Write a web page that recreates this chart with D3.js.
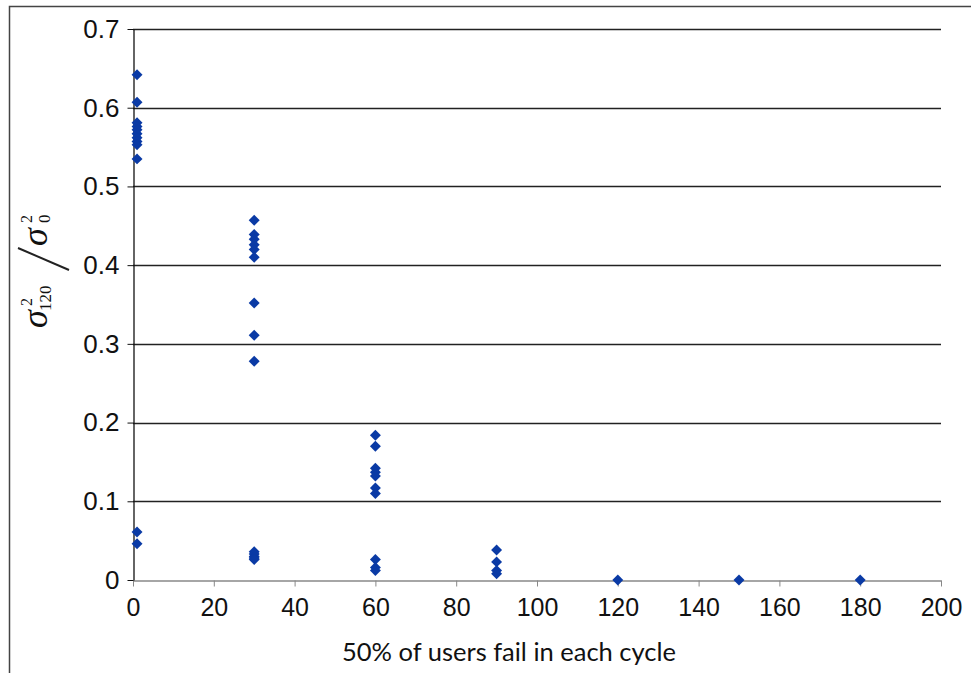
<!DOCTYPE html>
<html>
<head>
<meta charset="utf-8">
<script src="https://cdn.jsdelivr.net/npm/d3@7"></script>
<style>
  body { margin: 0; background: #fff; }
  svg { display: block; }
</style>
</head>
<body>
<div id="chart"></div>
<script>
// Data
const cycleX = [1, 30, 60, 90, 120, 150, 180]
const ratiosAt1 = [0.642, 0.607, 0.581, 0.576, 0.572, 0.567, 0.562, 0.557, 0.553, 0.535, 0.061, 0.046]
const ratiosAt30 = [0.457, 0.439, 0.433, 0.426, 0.420, 0.410, 0.352, 0.311, 0.278, 0.036, 0.033, 0.030, 0.028, 0.026]
const ratiosAt60 = [0.184, 0.170, 0.142, 0.137, 0.132, 0.117, 0.110, 0.026, 0.016, 0.012]
const ratiosAt90 = [0.038, 0.023, 0.012, 0.008]
const ratiosAt120 = [0]
const ratiosAt150 = [0]
const ratiosAt180 = [0]
const xTicks = [0, 20, 40, 60, 80, 100, 120, 140, 160, 180, 200]
const yTicks = [0, 0.1, 0.2, 0.3, 0.4, 0.5, 0.6, 0.7]

const groups = [ratiosAt1, ratiosAt30, ratiosAt60, ratiosAt90, ratiosAt120, ratiosAt150, ratiosAt180]
const points = groups.flatMap((vals, i) => vals.map(v => ({ x: cycleX[i], y: v })))

// Dimensions
const dimensions = {
  width: 971,
  height: 673,
  left: 133,
  right: 941,
  top: 29,
  bottom: 580,
}

const svg = d3.select('#chart')
  .append('svg')
  .attr('width', dimensions.width)
  .attr('height', dimensions.height)

// outer frame
svg.append('rect')
  .attr('x', 9.5)
  .attr('y', 6.5)
  .attr('width', 1000)
  .attr('height', 1000)
  .attr('fill', 'none')
  .attr('stroke', '#444')
  .attr('stroke-width', 1.5)

// Scales
const xScale = d3.scaleLinear()
  .domain([0, 200])
  .range([dimensions.left, dimensions.right])

const yScale = d3.scaleLinear()
  .domain([0, 0.7])
  .range([dimensions.bottom, dimensions.top])

// gridlines
svg.append('g')
  .selectAll('line')
  .data(yTicks.filter(d => d > 0))
  .join('line')
  .attr('x1', dimensions.left)
  .attr('x2', dimensions.right)
  .attr('y1', d => Math.round(yScale(d)) + 0.5)
  .attr('y2', d => Math.round(yScale(d)) + 0.5)
  .attr('stroke', '#222')
  .attr('stroke-width', 1.3)

// x axis
const xAxis = d3.axisBottom(xScale)
  .tickValues(xTicks)
  .tickSizeInner(6)
  .tickSizeOuter(0)
  .tickPadding(12)
  .tickFormat(d3.format('d'))

const xAxisGroup = svg.append('g')
  .attr('transform', `translate(0, ${dimensions.bottom + 0.5})`)
  .call(xAxis)
xAxisGroup.select('.domain').attr('stroke', '#888').attr('stroke-width', 1.3)
xAxisGroup.selectAll('.tick line').attr('stroke', '#888')
xAxisGroup.selectAll('text')
  .attr('fill', '#111')
  .style('font-family', 'Liberation Sans, Arial, sans-serif')
  .style('font-size', '25px')

// y axis
const yAxis = d3.axisLeft(yScale)
  .tickValues(yTicks)
  .tickSizeInner(6)
  .tickSizeOuter(0)
  .tickPadding(8)
  .tickFormat(d => d === 0 ? '0' : d3.format('.1f')(d))

const yAxisGroup = svg.append('g')
  .attr('transform', `translate(${dimensions.left + 0.5}, 0)`)
  .call(yAxis)
yAxisGroup.select('.domain').attr('stroke', '#111').attr('stroke-width', 1.3)
yAxisGroup.selectAll('.tick line').attr('stroke', '#111')
yAxisGroup.selectAll('text')
  .attr('fill', '#111')
  .style('font-family', 'Liberation Sans, Arial, sans-serif')
  .style('font-size', '26px')

// points (square diamonds)
const diamond = d3.symbol().type(d3.symbolSquare).size(60)
svg.append('g')
  .selectAll('path')
  .data(points)
  .join('path')
  .attr('d', diamond)
  .attr('transform', d => `translate(${xScale(d.x)}, ${yScale(d.y)}) rotate(45)`)
  .attr('fill', '#0a3aa5')

// x label
svg.append('text')
  .attr('x', 509)
  .attr('y', 661)
  .attr('text-anchor', 'middle')
  .attr('fill', '#111')
  .style('font-family', 'Lato, sans-serif')
  .style('font-size', '25.5px')
  .text('50% of users fail in each cycle')

// y label: sigma^2_120 / sigma^2_0, rotated
const yLabel = svg.append('g')
  .attr('transform', 'translate(47, 328) rotate(-90)')
  .attr('fill', '#111')
  .style('font-family', 'Liberation Serif, serif')

yLabel.append('text').attr('x', 0).attr('y', 0)
  .style('font-size', '36px').style('font-style', 'italic').text('σ')
yLabel.append('text').attr('x', 22).attr('y', -15)
  .style('font-size', '16px').text('2')
yLabel.append('text').attr('x', 17).attr('y', 4)
  .style('font-size', '17px').text('120')
yLabel.append('line')
  .attr('x1', 58).attr('y1', 22)
  .attr('x2', 80).attr('y2', -29)
  .attr('stroke', '#222')
  .attr('stroke-width', 2)
yLabel.append('text').attr('x', 82).attr('y', 0)
  .style('font-size', '36px').style('font-style', 'italic').text('σ')
yLabel.append('text').attr('x', 105).attr('y', -15)
  .style('font-size', '16px').text('2')
yLabel.append('text').attr('x', 105).attr('y', 3)
  .style('font-size', '17px').text('0')
</script>
</body>
</html>
